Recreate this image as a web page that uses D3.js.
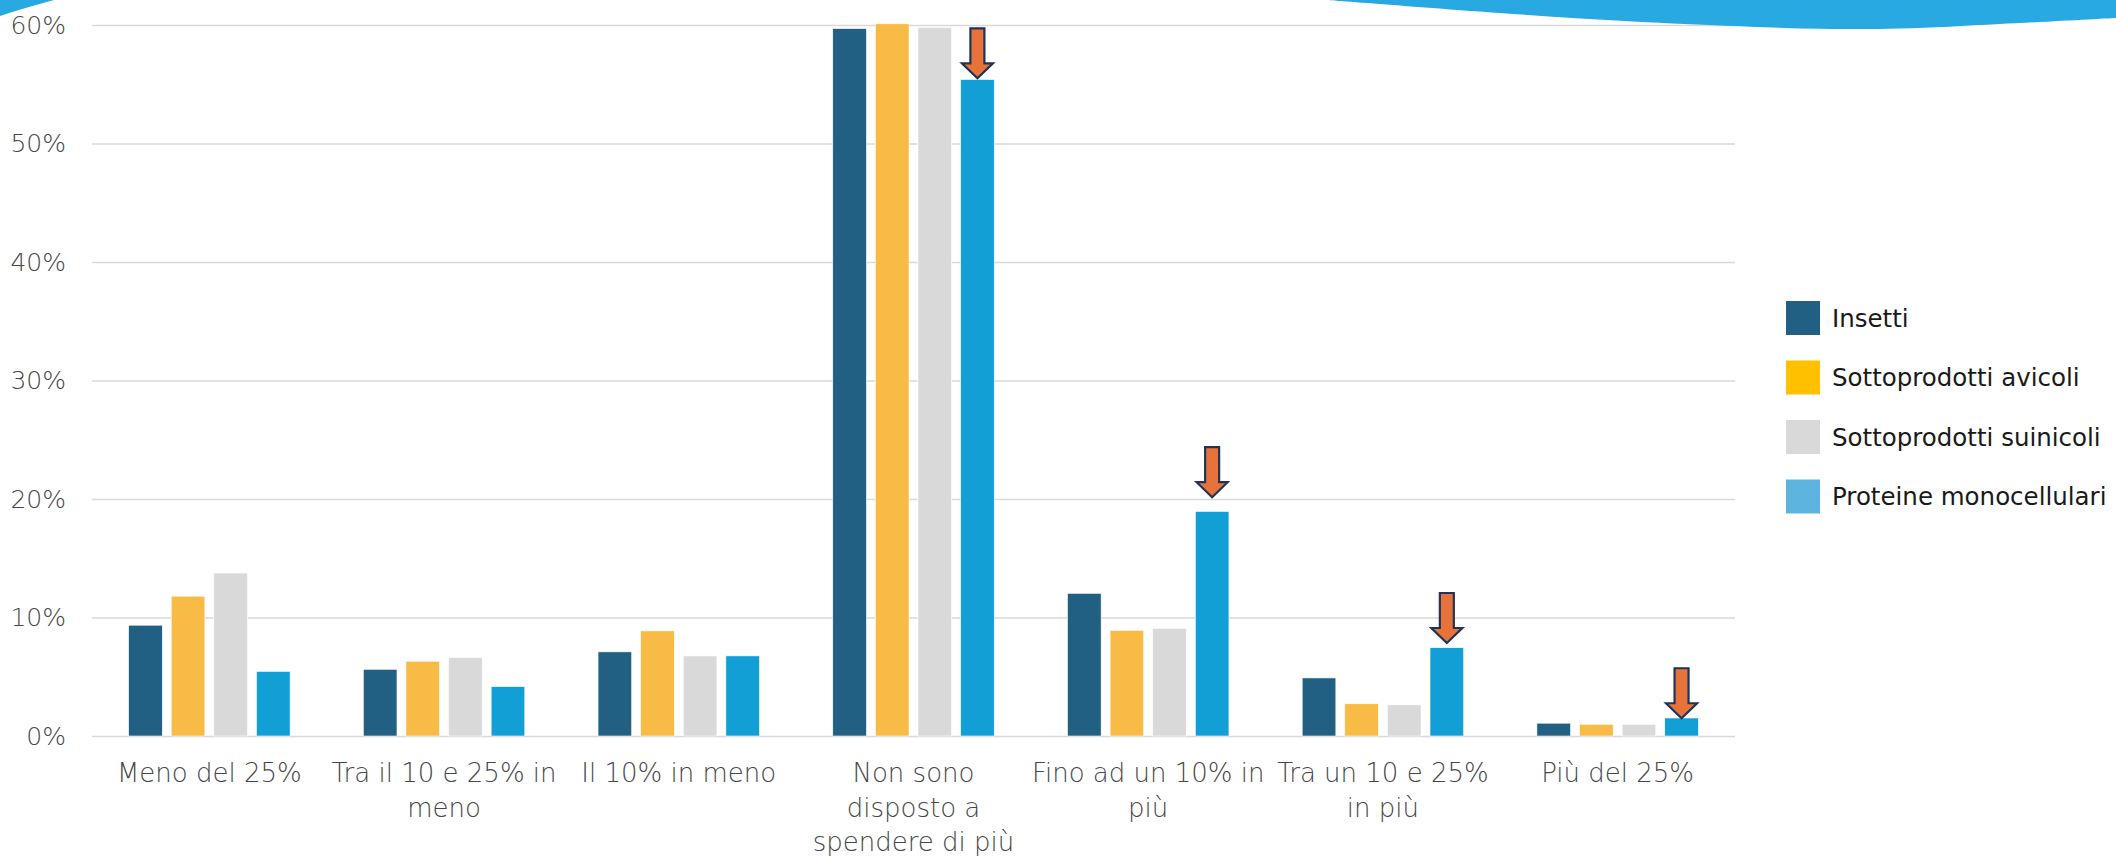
<!DOCTYPE html>
<html>
<head>
<meta charset="utf-8">
<script src="https://cdn.jsdelivr.net/npm/d3@7"></script>
<style>
  html, body { margin: 0; padding: 0; background: #fff; }
  svg { display: block; }
  .tick_lbl, .cat_lbl { font-family: "DejaVu Sans", sans-serif; font-weight: 300; fill: #474747; }
  .legend_lbl { font-family: "DejaVu Sans", sans-serif; fill: #1a1a1a; }
</style>
</head>
<body>
<div id="chart"></div>
<script>
(() => {

  let categories = ["Meno del 25%", "Tra il 10 e 25% in meno", "Il 10% in meno", "Non sono disposto a spendere di più", "Fino ad un 10% in più", "Tra un 10 e 25% in più", "Più del 25%"]
  let category_lines = [
    ["Meno del 25%"],
    ["Tra il 10 e 25% in", "meno"],
    ["Il 10% in meno"],
    ["Non sono", "disposto a", "spendere di più"],
    ["Fino ad un 10% in", "più"],
    ["Tra un 10 e 25%", "in più"],
    ["Più del 25%"]
  ]
  let series = ["Insetti", "Sottoprodotti avicoli", "Sottoprodotti suinicoli", "Proteine monocellulari"]

  let insetti = [9.35, 5.63, 7.1, 59.7, 12.04, 4.9, 1.08]
  let avicoli = [11.8, 6.31, 8.87, 60.1, 8.92, 2.72, 0.99]
  let suinicoli = [13.75, 6.62, 6.76, 59.8, 9.09, 2.63, 0.99]
  let proteine = [5.45, 4.17, 6.76, 55.4, 18.95, 7.45, 1.52]

  let y_ticks = [0, 10, 20, 30, 40, 50, 60]

  // arrows pointing at the "Proteine monocellulari" bars
  let arrow_cats = ["Non sono disposto a spendere di più", "Fino ad un 10% in più", "Tra un 10 e 25% in più", "Più del 25%"]
  let arrow_tips = [55.5, 20.15, 7.85, 1.5]

  let bar_colors = ["#215f83", "#f8bb45", "#d9d9d9", "#119fd6"]
  let legend_colors = ["#215f83", "#ffc000", "#d9d9d9", "#5db5df"]

  let values = [insetti, avicoli, suinicoli, proteine]
  let data = categories.map((c, i) => ({
    cat: c,
    lines: category_lines[i],
    vals: series.map((s, j) => ({series: s, value: values[j][i], color: bar_colors[j]}))
  }))

  let svg = d3.select("#chart")
  .append("svg")
  .attr("width", 2116)
  .attr("height", 856)

  let margin = {left: 92, right: 381, top: 25, bottom: 120}
  let x_end = 2116 - margin.right
  let y_base = 856 - margin.bottom

  let x0 = d3.scaleBand()
  .domain(categories)
  .range([margin.left, x_end])

  let group_w = x0.bandwidth() * 0.688

  let x1 = d3.scaleBand()
  .domain(series)
  .range([0, group_w])
  .paddingInner(0.21)

  let y = d3.scaleLinear()
  .domain([0, 60])
  .range([y_base, margin.top])

  //gridlines + y labels
  let y_axis = svg.append("g")
  .attr("transform", "translate(" + margin.left + ",0)")
  .call(d3.axisLeft(y)
    .tickValues(y_ticks)
    .tickFormat(d => d + "%")
    .tickSize(-(x_end - margin.left))
    .tickPadding(26))

  y_axis.select(".domain").remove()
  y_axis.selectAll(".tick line")
  .attr("stroke", "#d9d9d9")
  .attr("stroke-width", 1.6)
  y_axis.selectAll(".tick text")
  .attr("class", "tick_lbl")
  .style("font-size", "25px")

  // blue swooshes at the top (decoration)
  svg.append("path")
  .attr("d", "M0,0 L54,0 Q24,8 0,16 Z")
  .attr("fill", "#28a9e1")

  let swoosh_pts = [[1327, 0], [1500, 13], [1633, 21.5], [1733, 26], [1820, 28.8], [1900, 28.6], [2000, 24], [2116, 18]]
  let swoosh = d3.line().curve(d3.curveCatmullRom)(swoosh_pts)
  svg.append("path")
  .attr("d", swoosh + " L2116,0 Z")
  .attr("fill", "#28a9e1")

  //bars
  let groups = svg.selectAll(".grp")
  .data(data)
  .enter()
  .append("g")
  .attr("class", "grp")
  .attr("transform", d => "translate(" + (x0(d.cat) + (x0.bandwidth() - group_w) / 2) + ",0)")

  groups.selectAll("rect")
  .data(d => d.vals)
  .enter()
  .append("rect")
  .attr("x", d => x1(d.series))
  .attr("width", x1.bandwidth())
  .attr("y", d => y(d.value))
  .attr("height", d => y_base - y(d.value))
  .attr("fill", d => d.color)
  .attr("stroke", "#fff")
  .attr("stroke-width", 0.6)

  //category labels
  let cat_labels = svg.selectAll(".cat_lbl")
  .data(data)
  .enter()
  .append("text")
  .attr("class", "cat_lbl")
  .attr("x", d => x0(d.cat) + x0.bandwidth() / 2)
  .attr("y", 782)
  .style("font-size", "26px")
  .style("text-anchor", "middle")

  cat_labels.selectAll("tspan")
  .data(d => d.lines.map(l => ({l: l, x: x0(d.cat) + x0.bandwidth() / 2})))
  .enter()
  .append("tspan")
  .attr("x", d => d.x)
  .attr("dy", (d, i) => i == 0 ? 0 : 34.5)
  .text(d => d.l)

  //arrows
  let arrow_path = (cx, tip) => {
    let sw = 7, hw = 15.5, hh = 15, len = 50
    return "M" + (cx - sw) + "," + (tip - len) +
      "L" + (cx + sw) + "," + (tip - len) +
      "L" + (cx + sw) + "," + (tip - hh) +
      "L" + (cx + hw) + "," + (tip - hh) +
      "L" + cx + "," + tip +
      "L" + (cx - hw) + "," + (tip - hh) +
      "L" + (cx - sw) + "," + (tip - hh) + "Z"
  }

  svg.selectAll(".arrow")
  .data(arrow_cats.map((c, i) => ({cat: c, tip: arrow_tips[i]})))
  .enter()
  .append("path")
  .attr("class", "arrow")
  .attr("d", d => {
    let cx = x0(d.cat) + (x0.bandwidth() - group_w) / 2 + x1(series[3]) + x1.bandwidth() / 2
    return arrow_path(cx, y(d.tip))
  })
  .attr("fill", "#e8733a")
  .attr("stroke", "#1f3458")
  .attr("stroke-width", 2.2)
  .attr("stroke-linejoin", "miter")

  //legend
  let legend = svg.selectAll(".legend")
  .data(series)
  .enter()
  .append("g")
  .attr("class", "legend")
  .attr("transform", (d, i) => "translate(1786," + (301 + i * 59.5) + ")")

  legend.append("rect")
  .attr("width", 34)
  .attr("height", 34)
  .attr("fill", (d, i) => legend_colors[i])

  legend.append("text")
  .attr("class", "legend_lbl")
  .attr("x", 46)
  .attr("y", 17)
  .attr("dy", "0.36em")
  .style("font-size", "24.5px")
  .text(d => d)

})()
</script>
</body>
</html>
